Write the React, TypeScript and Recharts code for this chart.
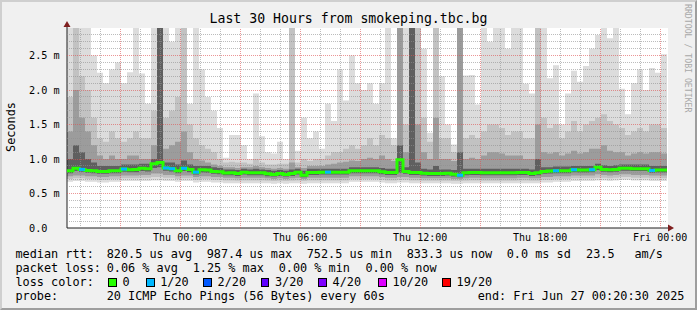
import React from 'react';
import { ComposedChart, Area, Line, Scatter, XAxis, YAxis, ReferenceLine } from 'recharts';

const FONT = "'DejaVu Sans Mono', monospace";

// 100 bins of 18 minutes each, Wed 18:20:30 .. Fri 00:20:30 (hours since start)
const BIN_HOURS = 0.3;

// rtt values in ms
const medianRtt = [
  0.83, 0.865, 0.85, 0.835, 0.83, 0.82, 0.82, 0.83, 0.83, 0.855,
  0.845, 0.85, 0.865, 0.86, 0.93, 0.95, 0.87, 0.86, 0.83, 0.865,
  0.85, 0.81, 0.845, 0.84, 0.82, 0.815, 0.797, 0.8, 0.79, 0.81,
  0.8, 0.8, 0.8, 0.785, 0.775, 0.79, 0.775, 0.79, 0.81, 0.765,
  0.805, 0.805, 0.81, 0.81, 0.81, 0.81, 0.81, 0.83, 0.83, 0.83,
  0.83, 0.83, 0.815, 0.805, 0.805, 0.99, 0.82, 0.805, 0.805, 0.795,
  0.79, 0.79, 0.79, 0.795, 0.78, 0.765, 0.8, 0.805, 0.805, 0.8,
  0.8, 0.8, 0.8, 0.8, 0.8, 0.805, 0.805, 0.79, 0.8, 0.82,
  0.825, 0.83, 0.83, 0.83, 0.845, 0.84, 0.84, 0.845, 0.88, 0.85,
  0.845, 0.85, 0.865, 0.865, 0.86, 0.86, 0.86, 0.835, 0.84, 0.84,
];

// lost pings out of 20
const lossCount = [
  0, 0, 1, 0, 0, 0, 0, 0, 0, 1,
  0, 0, 0, 0, 0, 0, 1, 1, 0, 1,
  0, 1, 0, 0, 0, 0, 0, 0, 0, 0,
  0, 0, 0, 0, 0, 0, 0, 0, 0, 0,
  0, 0, 0, 1, 0, 0, 0, 0, 0, 0,
  0, 0, 0, 0, 0, 0, 0, 0, 0, 0,
  0, 0, 0, 0, 0, 1, 0, 0, 0, 0,
  0, 0, 0, 0, 0, 0, 0, 0, 0, 0,
  0, 1, 0, 0, 1, 0, 0, 1, 0, 0,
  0, 0, 0, 0, 0, 0, 0, 1, 0, 0,
];

const maxRtt = [
  2.9, 2.9, 2.9, 2.9, 2.5, 2.25, 2.1, 2.3, 2.4, 2.1,
  2.26, 2.9, 2.24, 1.8, 2.9, 2.9, 2.9, 2.7, 2.9, 2.9,
  1.8, 2.9, 2.3, 1.9, 1.7, 1.45, 1.02, 1.35, 1.35, 1.2,
  1.0, 1.95, 1.33, 1.1, 1.08, 1.25, 1.0, 2.9, 1.12, 1.6,
  1.3, 1.4, 1.15, 1.8, 1.55, 2.3, 1.85, 2.5, 2.1, 2.0,
  2.1, 1.8, 2.1, 2.9, 1.3, 2.9, 2.9, 2.9, 2.9, 2.6,
  1.38, 2.9, 2.2, 1.5, 1.21, 2.9, 2.21, 2.22, 1.79, 2.9,
  2.7, 2.9, 2.9, 2.6, 2.9, 2.9, 2.09, 1.95, 2.9, 2.9,
  2.17, 2.36, 1.5, 1.95, 2.28, 2.12, 2.35, 2.6, 2.8, 2.9,
  2.75, 2.9, 2.02, 1.65, 2.1, 2.3, 2.0, 2.32, 2.25, 2.52,
];

const p90 = [
  1.9, 2.9, 2.2, 2.0, 1.6, 1.3, 1.25, 1.4, 1.3, 1.25,
  1.3, 1.4, 1.3, 1.3, 1.7, 2.9, 1.6, 1.7, 1.9, 2.9,
  1.5, 1.3, 1.2, 1.15, 1.1, 1.0, 0.95, 0.96, 0.95, 0.95,
  0.93, 1.0, 0.95, 0.92, 0.92, 0.93, 0.93, 2.9, 0.95, 1.0,
  0.97, 1.0, 1.0, 1.05, 1.1, 1.1, 1.15, 1.2, 1.15, 1.2,
  1.3, 1.2, 1.35, 1.3, 1.2, 2.9, 1.5, 2.9, 2.9, 1.6,
  1.25, 2.9, 1.3, 1.3, 1.1, 2.9, 1.3, 1.35, 1.3, 1.4,
  1.5, 1.5, 1.45, 1.35, 1.4, 1.4, 1.3, 1.3, 2.9, 1.6,
  1.45, 1.5, 1.3, 1.4, 1.55, 1.4, 1.5, 1.55, 1.6, 1.65,
  1.55, 1.5, 1.45, 1.35, 1.4, 1.45, 1.4, 1.5, 1.5, 1.45,
];

const p75 = [
  1.4, 2.0, 1.6, 1.4, 1.2, 1.05, 1.0, 1.05, 1.0, 1.0,
  1.05, 1.05, 1.0, 1.0, 1.2, 2.9, 1.15, 1.2, 1.25, 1.4,
  1.1, 1.0, 0.98, 0.95, 0.92, 0.9, 0.88, 0.88, 0.87, 0.88,
  0.88, 0.9, 0.88, 0.87, 0.86, 0.87, 0.86, 0.95, 0.88, 0.87,
  0.9, 0.9, 0.9, 0.92, 0.93, 0.95, 0.96, 0.98, 0.97, 1.0,
  1.02, 1.0, 1.05, 1.0, 0.97, 2.9, 1.1, 2.9, 1.5, 1.1,
  1.0, 1.6, 1.0, 1.0, 0.97, 2.9, 1.0, 1.02, 1.0, 1.05,
  1.1, 1.1, 1.08, 1.05, 1.05, 1.05, 1.0, 1.0, 1.5, 1.1,
  1.08, 1.1, 1.05, 1.08, 1.12, 1.08, 1.1, 1.15, 1.15, 1.2,
  1.12, 1.1, 1.1, 1.05, 1.08, 1.1, 1.08, 1.1, 1.1, 1.08,
];

const p60 = [
  1.0, 1.2, 1.1, 1.0, 0.95, 0.9, 0.9, 0.9, 0.9, 0.92,
  0.92, 0.92, 0.93, 0.93, 1.0, 2.9, 0.95, 0.95, 0.92, 0.98,
  0.92, 0.9, 0.9, 0.9, 0.88, 0.87, 0.85, 0.85, 0.84, 0.86,
  0.85, 0.86, 0.85, 0.84, 0.83, 0.84, 0.83, 0.85, 0.86, 0.83,
  0.86, 0.86, 0.86, 0.86, 0.86, 0.86, 0.86, 0.88, 0.88, 0.88,
  0.88, 0.88, 0.87, 0.86, 0.86, 1.2, 0.88, 2.9, 0.95, 0.86,
  0.85, 0.9, 0.85, 0.85, 0.84, 1.1, 0.86, 0.86, 0.86, 0.86,
  0.86, 0.86, 0.86, 0.86, 0.86, 0.86, 0.86, 0.85, 1.0, 0.88,
  0.88, 0.89, 0.89, 0.89, 0.9, 0.9, 0.9, 0.9, 0.93, 0.91,
  0.9, 0.91, 0.92, 0.92, 0.92, 0.92, 0.92, 0.9, 0.9, 0.9,
];

const p40 = [
  0.795, 0.825, 0.815, 0.8, 0.795, 0.785, 0.785, 0.795, 0.795, 0.815,
  0.81, 0.81, 0.825, 0.82, 0.87, 0.88, 0.83, 0.82, 0.795, 0.825,
  0.81, 0.775, 0.805, 0.8, 0.785, 0.78, 0.765, 0.765, 0.755, 0.775,
  0.765, 0.765, 0.765, 0.75, 0.745, 0.755, 0.745, 0.755, 0.775, 0.735,
  0.77, 0.77, 0.775, 0.775, 0.775, 0.775, 0.775, 0.795, 0.795, 0.795,
  0.795, 0.795, 0.78, 0.77, 0.77, 0.8, 0.785, 0.77, 0.77, 0.76,
  0.755, 0.755, 0.755, 0.76, 0.745, 0.735, 0.765, 0.77, 0.77, 0.765,
  0.765, 0.765, 0.765, 0.765, 0.765, 0.77, 0.77, 0.755, 0.765, 0.785,
  0.79, 0.795, 0.795, 0.795, 0.81, 0.805, 0.805, 0.81, 0.84, 0.815,
  0.81, 0.815, 0.83, 0.83, 0.825, 0.825, 0.825, 0.8, 0.805, 0.805,
];

const p25 = [
  0.75, 0.76, 0.76, 0.75, 0.75, 0.74, 0.74, 0.75, 0.75, 0.76,
  0.76, 0.76, 0.77, 0.77, 0.79, 0.79, 0.77, 0.77, 0.75, 0.76,
  0.76, 0.74, 0.75, 0.75, 0.74, 0.74, 0.73, 0.73, 0.72, 0.73,
  0.73, 0.73, 0.73, 0.72, 0.71, 0.72, 0.71, 0.72, 0.73, 0.71,
  0.73, 0.73, 0.73, 0.73, 0.73, 0.73, 0.73, 0.75, 0.75, 0.75,
  0.75, 0.75, 0.74, 0.73, 0.73, 0.74, 0.74, 0.73, 0.73, 0.72,
  0.72, 0.72, 0.72, 0.72, 0.71, 0.71, 0.72, 0.73, 0.73, 0.72,
  0.72, 0.72, 0.72, 0.72, 0.72, 0.73, 0.73, 0.72, 0.72, 0.74,
  0.74, 0.75, 0.75, 0.75, 0.76, 0.76, 0.76, 0.76, 0.78, 0.77,
  0.76, 0.77, 0.78, 0.78, 0.77, 0.77, 0.77, 0.76, 0.76, 0.76,
];

const p10 = [
  0.71, 0.72, 0.72, 0.71, 0.71, 0.7, 0.7, 0.71, 0.71, 0.72,
  0.72, 0.72, 0.73, 0.73, 0.74, 0.74, 0.73, 0.73, 0.71, 0.72,
  0.72, 0.7, 0.71, 0.71, 0.7, 0.7, 0.69, 0.69, 0.685, 0.69,
  0.69, 0.69, 0.69, 0.685, 0.68, 0.685, 0.68, 0.685, 0.69, 0.68,
  0.69, 0.69, 0.69, 0.69, 0.69, 0.69, 0.69, 0.71, 0.71, 0.71,
  0.71, 0.71, 0.7, 0.69, 0.69, 0.7, 0.7, 0.69, 0.69, 0.685,
  0.685, 0.685, 0.685, 0.685, 0.68, 0.68, 0.685, 0.69, 0.69, 0.685,
  0.685, 0.685, 0.685, 0.685, 0.685, 0.69, 0.69, 0.685, 0.685, 0.7,
  0.7, 0.71, 0.71, 0.71, 0.72, 0.72, 0.72, 0.72, 0.73, 0.73,
  0.72, 0.73, 0.74, 0.74, 0.73, 0.73, 0.73, 0.72, 0.72, 0.72,
];

const minRtt = [
  0.67, 0.68, 0.68, 0.67, 0.67, 0.66, 0.66, 0.67, 0.67, 0.68,
  0.68, 0.68, 0.68, 0.68, 0.69, 0.69, 0.68, 0.68, 0.67, 0.68,
  0.68, 0.66, 0.67, 0.67, 0.66, 0.66, 0.65, 0.65, 0.65, 0.65,
  0.65, 0.65, 0.65, 0.65, 0.64, 0.65, 0.64, 0.65, 0.65, 0.64,
  0.65, 0.65, 0.65, 0.65, 0.65, 0.65, 0.65, 0.67, 0.67, 0.67,
  0.67, 0.67, 0.66, 0.65, 0.65, 0.66, 0.66, 0.65, 0.65, 0.65,
  0.65, 0.65, 0.65, 0.65, 0.64, 0.64, 0.65, 0.65, 0.65, 0.65,
  0.65, 0.65, 0.65, 0.65, 0.65, 0.65, 0.65, 0.65, 0.65, 0.66,
  0.66, 0.67, 0.67, 0.67, 0.68, 0.68, 0.68, 0.68, 0.69, 0.69,
  0.68, 0.69, 0.7, 0.7, 0.69, 0.69, 0.69, 0.68, 0.68, 0.68,
];

const yTicks = [0, 0.5, 1, 1.5, 2, 2.5];
const yTickLabels = ['0.0', '0.5 m', '1.0 m', '1.5 m', '2.0 m', '2.5 m'];
const xTickHours = [5.658, 11.658, 17.658, 23.658, 29.658];
const xTickLabels = ['Thu 00:00', 'Thu 06:00', 'Thu 12:00', 'Thu 18:00', 'Fri 00:00'];

const lossLevels = ['0', '1/20', '2/20', '3/20', '4/20', '10/20', '19/20'];
const lossLevelColors = ['#26ff00', '#00b8ff', '#0059ff', '#5e00ff', '#7e00ff', '#dd00ff', '#ff0000'];
const lossColorByCount: Record<number, string> = {
  0: '#26ff00', 1: '#00b8ff', 2: '#0059ff', 3: '#5e00ff', 4: '#7e00ff', 10: '#dd00ff', 19: '#ff0000',
};

const rows = medianRtt.map((m, i) => ({
  t: i * BIN_HOURS,
  outer: [minRtt[i], maxRtt[i]],
  mid: [p10[i], p90[i]],
  inner: [p25[i], p75[i]],
  core: [p40[i], p60[i]],
  median: m,
  loss: lossCount[i],
}));
// closing point so the last step reaches the right edge
rows.push({ ...rows[rows.length - 1], t: medianRtt.length * BIN_HOURS });
const lossRows = rows.slice(0, -1).filter((r) => r.loss > 0);

// grid lines
const minorY: number[] = [];
const majorY: number[] = [];
for (let k = 1; k <= 28; k++) (k % 5 === 0 ? majorY : minorY).push(k / 10);
const minorX: number[] = [];
const majorX: number[] = [];
for (let k = 0; k < 30; k++) ((k + 1) % 3 === 0 ? majorX : minorX).push(0.658 + k);

const XTick = (props: any) => {
  const { x, y, payload } = props;
  const i = xTickHours.indexOf(payload.value);
  return (
    <text x={x} y={y + 9.5} textAnchor="middle" dominantBaseline="central"
      fontFamily={FONT} fontSize={10} fill="#000">
      {xTickLabels[i]}
    </text>
  );
};

const YTick = (props: any) => {
  const { y, payload } = props;
  const i = yTicks.indexOf(payload.value);
  return (
    <text x={29} y={y} textAnchor="start" dominantBaseline="central"
      fontFamily={FONT} fontSize={10.2} fill="#000">
      {yTickLabels[i]}
    </text>
  );
};

const LossMark = (props: any) => {
  const { cx, cy, payload } = props;
  if (cx == null || cy == null) return null;
  return <rect x={cx} y={cy - 1.5} width={6} height={3} fill={lossColorByCount[payload.loss] || '#00b8ff'} />;
};

const legendText = (x: number, y: number, s: string, key: string) => (
  <div key={key} style={{
    position: 'absolute', left: x - 0.6, top: y - 7, height: 14, lineHeight: '14px',
    fontFamily: FONT, fontSize: 11.85, color: '#000', whiteSpace: 'pre',
  }}>{s}</div>
);

const row1: [number, string][] = [
  [16, 'median rtt:'], [107.3, '820.5 us avg'], [207.3, '987.4 us max'], [307.3, '752.5 us min'],
  [407.3, '833.3 us now'], [507.3, '0.0 ms sd'], [586.7, '23.5'], [635, 'am/s'],
];
const row2: [number, string][] = [
  [16, 'packet loss:'], [107.3, '0.06 % avg'], [193.3, '1.25 % max'], [279.3, '0.00 % min'], [366, '0.00 % now'],
];
const row4: [number, string][] = [
  [16, 'probe:'], [107.3, '20 ICMP Echo Pings (56 Bytes) every 60s'], [478.3, 'end: Fri Jun 27 00:20:30 2025'],
];
const lossBoxX = [108.3, 146, 203.3, 260.7, 318.3, 378.3, 442.3];

const gridMinor = { stroke: '#8f8f8f', strokeOpacity: 0.6, strokeDasharray: '1 1', shapeRendering: 'crispEdges' } as any;
const gridMajor = { stroke: '#de5050', strokeOpacity: 0.6, strokeDasharray: '1 1', shapeRendering: 'crispEdges' } as any;

const layer: React.CSSProperties = { position: 'absolute', left: 0, top: 0 };
// overlay charts hide their axes, so the plot offsets go into the margin
const overlayMargin = { top: 28, right: 30, bottom: 82, left: 67 };

export default function App() {
  return (
    <div style={{ position: 'absolute', left: 0, top: 0, width: 697, height: 310, background: '#f0f0f0', overflow: 'hidden' }}>
      <div style={{ position: 'absolute', left: 67, top: 28, width: 601, height: 200, background: '#fff' }} />

      {/* smoke */}
      <div style={layer}>
        <ComposedChart width={697} height={310} data={rows} margin={{ top: 28, right: 30, bottom: 0, left: 0 }}>
          <XAxis type="number" dataKey="t" domain={[0, 30]} ticks={xTickHours} tick={<XTick />}
            tickLine={false} tickSize={0} tickMargin={0} height={82} allowDataOverflow
            axisLine={{ stroke: '#1f1f1f' }} interval={0} />
          <YAxis type="number" domain={[0, 2.9]} ticks={yTicks} tick={<YTick />} width={67}
            tickLine={false} tickSize={0} allowDataOverflow axisLine={{ stroke: '#1f1f1f' }} interval={0} />
          <Area type="stepAfter" dataKey="outer" stroke="none" fill="#dcdcdc" fillOpacity={1} isAnimationActive={false} dot={false} activeDot={false} />
          <Area type="stepAfter" dataKey="mid" stroke="none" fill="#c2c2c2" fillOpacity={1} isAnimationActive={false} dot={false} activeDot={false} />
          <Area type="stepAfter" dataKey="inner" stroke="none" fill="#9c9c9c" fillOpacity={1} isAnimationActive={false} dot={false} activeDot={false} />
          <Area type="stepAfter" dataKey="core" stroke="none" fill="#5f5f5f" fillOpacity={1} isAnimationActive={false} dot={false} activeDot={false} />
        </ComposedChart>
      </div>

      {/* grid on top of the smoke */}
      <div style={layer}>
        <ComposedChart width={697} height={310} data={rows} margin={overlayMargin}>
          <XAxis type="number" dataKey="t" domain={[0, 30]} hide allowDataOverflow />
          <YAxis type="number" domain={[0, 2.9]} hide allowDataOverflow />
          {minorY.map((v) => <ReferenceLine key={`my${v}`} y={v} {...gridMinor} />)}
          {minorX.map((v) => <ReferenceLine key={`mx${v}`} x={v} {...gridMinor} />)}
          {majorY.map((v) => <ReferenceLine key={`My${v}`} y={v} {...gridMajor} />)}
          {majorX.map((v) => <ReferenceLine key={`Mx${v}`} x={v} {...gridMajor} />)}
        </ComposedChart>
      </div>

      {/* median rtt coloured by loss */}
      <div style={layer}>
        <ComposedChart width={697} height={310} data={rows} margin={overlayMargin}>
          <XAxis type="number" dataKey="t" domain={[0, 30]} hide allowDataOverflow />
          <YAxis type="number" domain={[0, 2.9]} hide allowDataOverflow />
          <Line type="stepAfter" dataKey="median" stroke="#26ff00" strokeWidth={3} dot={false} activeDot={false} isAnimationActive={false} />
          <Scatter data={lossRows} dataKey="median" shape={<LossMark />} isAnimationActive={false} />
        </ComposedChart>
      </div>

      <svg style={layer} width={697} height={310}>
        <line x1={667} y1={228} x2={669} y2={228} stroke="#1f1f1f" />
        <polygon points="668,224.5 674,228 668,231.5" fill="#7f1f1f" />
        <line x1={67} y1={28} x2={67} y2={26} stroke="#1f1f1f" />
        <polygon points="63.5,27 67,21 70.5,27" fill="#7f1f1f" />
      </svg>

      <div style={{ position: 'absolute', left: 0, top: 11, width: 697, textAlign: 'center', fontFamily: FONT, fontSize: 13.2, lineHeight: '16px', color: '#000', whiteSpace: 'pre' }}>
        Last 30 Hours from smokeping.tbc.bg
      </div>

      <div style={{ position: 'absolute', left: 4, top: 100, width: 14, height: 54, display: 'flex', alignItems: 'center', justifyContent: 'center' }}>
        <div style={{ writingMode: 'vertical-rl', transform: 'rotate(180deg)', fontFamily: FONT, fontSize: 11.85, color: '#000', whiteSpace: 'pre' }}>
          Seconds
        </div>
      </div>

      <div style={{ position: 'absolute', left: 683, top: 4, writingMode: 'vertical-rl', fontFamily: FONT, fontSize: 8.2, color: '#a8a8a8', whiteSpace: 'pre', lineHeight: '10px' }}>
        RRDTOOL / TOBI OETIKER
      </div>

      {row1.map(([x, s], i) => legendText(x, 254.3, s, `r1${i}`))}
      {row2.map(([x, s], i) => legendText(x, 268.3, s, `r2${i}`))}
      {legendText(16, 282.3, 'loss color:', 'r3')}
      {lossLevels.map((lbl, i) => (
        <React.Fragment key={`lc${i}`}>
          <div style={{ position: 'absolute', left: lossBoxX[i], top: 278, width: 6.5, height: 6.5, background: lossLevelColors[i], border: '1px solid #000' }} />
          {legendText(lossBoxX[i] + 14.8, 282.3, lbl, `ll${i}`)}
        </React.Fragment>
      ))}
      {row4.map(([x, s], i) => legendText(x, 296, s, `r4${i}`))}

      <div style={{ position: 'absolute', left: 0, top: 0, width: 697, height: 310, boxSizing: 'border-box', borderTop: '2px solid #cfcfcf', borderLeft: '2px solid #cfcfcf', borderRight: '2px solid #9e9e9e', borderBottom: '2px solid #9e9e9e', pointerEvents: 'none' }} />
    </div>
  );
}
